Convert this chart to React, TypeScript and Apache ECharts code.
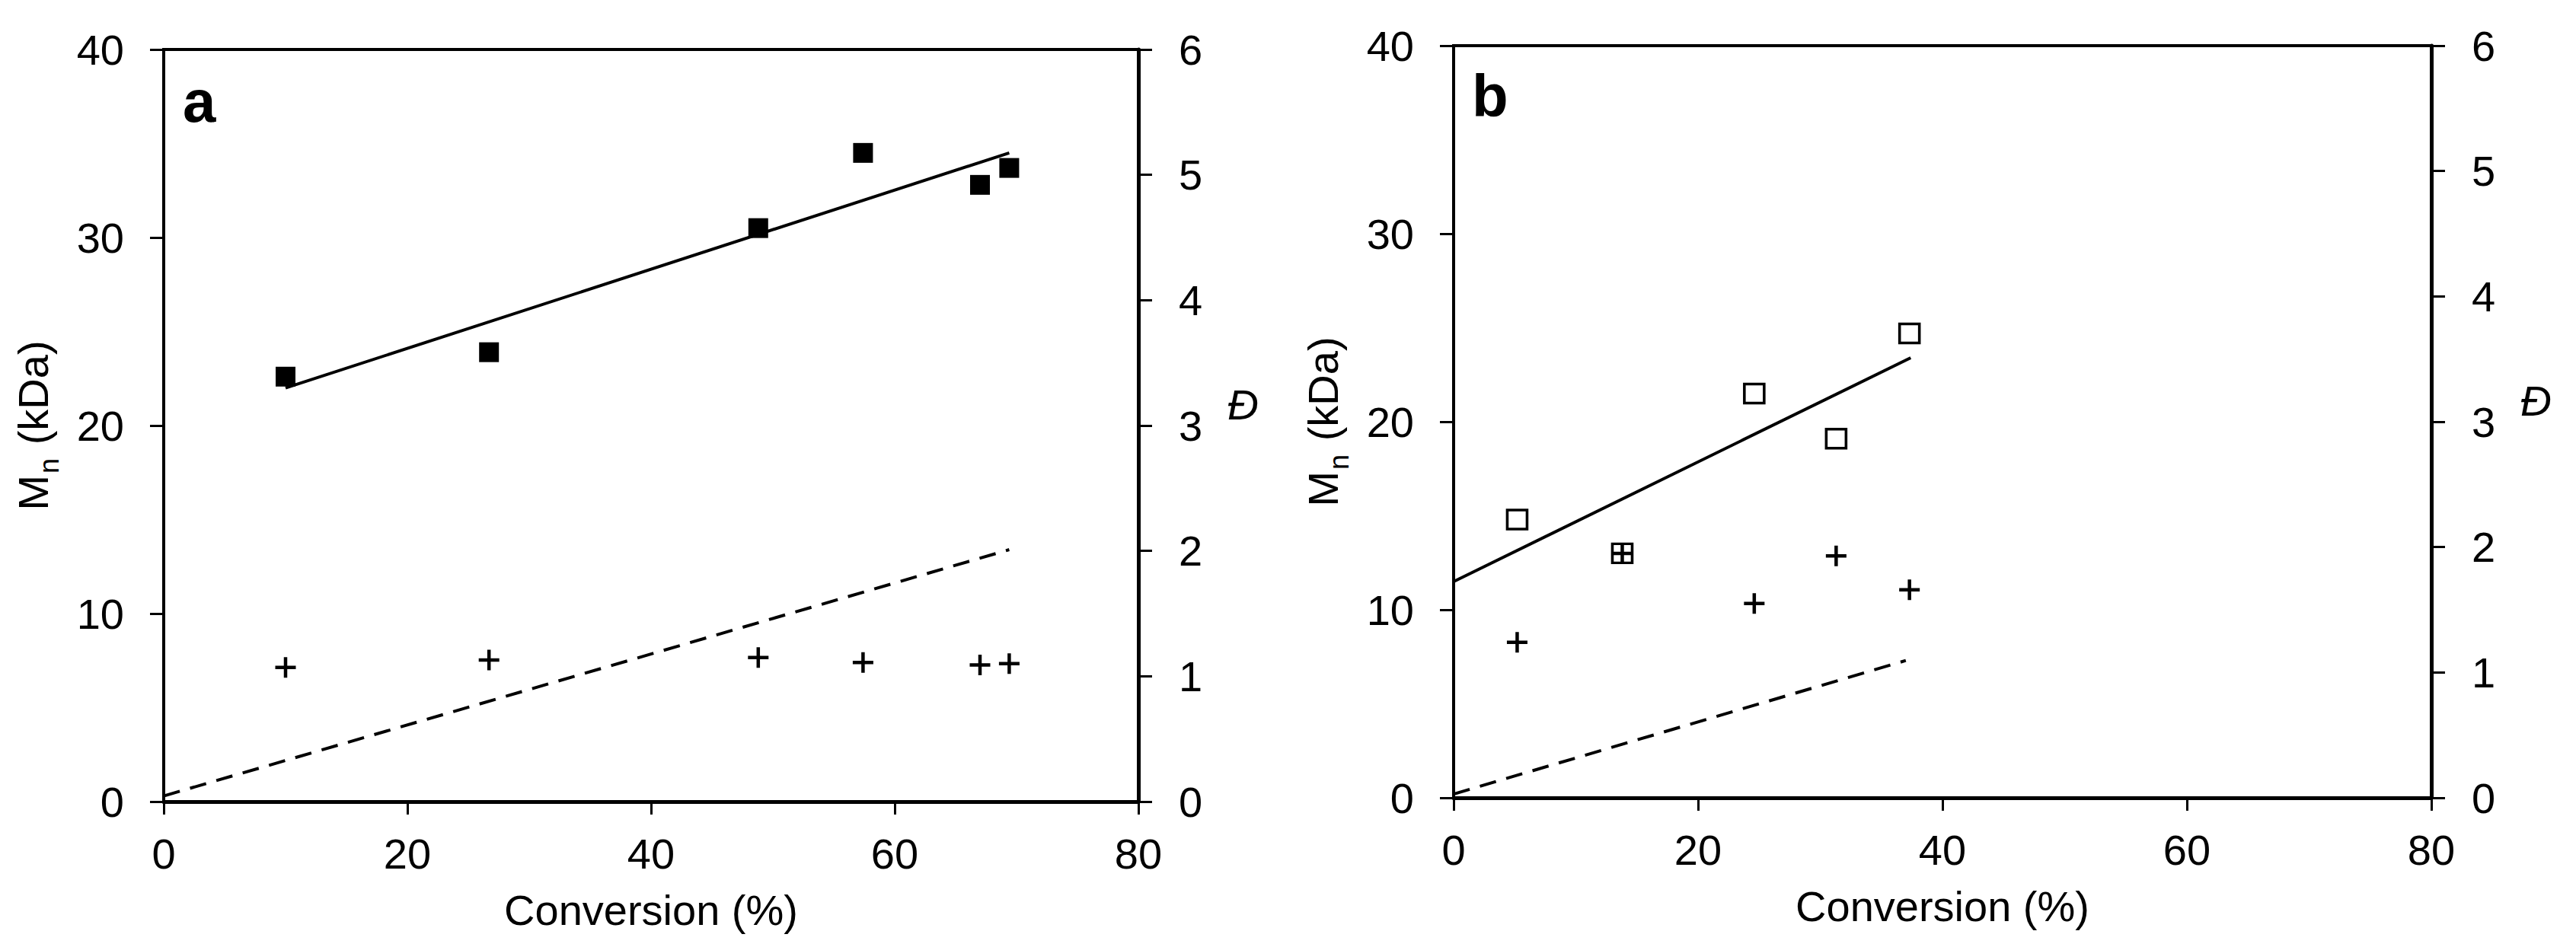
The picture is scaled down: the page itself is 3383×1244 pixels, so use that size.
import React, { useEffect, useRef } from "react";
import * as echarts from "echarts";

// Panel a (filled squares)
const convA = [10.0, 26.7, 48.8, 57.4, 67.0, 69.4];
const mnA = [22.6, 23.9, 30.5, 34.5, 32.8, 33.7];
const dispA = [1.07, 1.13, 1.15, 1.11, 1.09, 1.1];
const fitA = [
  [10.0, 22.0],
  [69.4, 34.5],
];
const theoryA = [
  [0, 0.3],
  [69.4, 13.4],
];

// Panel b (open squares)
const convB = [5.2, 13.8, 24.6, 31.3, 37.3];
const mnB = [14.8, 13.0, 21.5, 19.1, 24.7];
const dispB = [1.24, 1.95, 1.55, 1.93, 1.66];
const fitB = [
  [0, 11.5],
  [37.4, 23.4],
];
const theoryB = [
  [0, 0.2],
  [37.0, 7.3],
];

const panelLabels = ["a", "b"];
const xName = "Conversion (%)";
const yLeftName = "{m|M}{s|n}{m| (kDa)}";
const yRightName = "Đ";

const FONT = "'Liberation Sans', Arial, Helvetica, sans-serif";
const PLUS = "path://M10,0H14V10H24V14H14V24H10V14H0V10H10Z";

function xAxis(gridIndex: number) {
  return {
    gridIndex,
    type: "value",
    min: 0,
    max: 80,
    interval: 20,
    axisLine: { show: true, onZero: false, lineStyle: { color: "#000", width: 5 } },
    axisTick: { show: true, length: 17, lineStyle: { color: "#000", width: 3 } },
    axisLabel: { margin: 40, fontSize: 56, color: "#000", fontFamily: FONT },
    splitLine: { show: false },
    name: xName,
    nameLocation: "middle",
    nameGap: 114,
    nameTextStyle: { fontSize: 56, color: "#000", fontFamily: FONT },
  };
}

function yLeft(gridIndex: number) {
  return {
    gridIndex,
    type: "value",
    position: "left",
    min: 0,
    max: 40,
    interval: 10,
    axisLine: { show: true, onZero: false, lineStyle: { color: "#000", width: 4 } },
    axisTick: { show: true, length: 18, lineStyle: { color: "#000", width: 3 } },
    axisLabel: { margin: 52, fontSize: 56, color: "#000", fontFamily: FONT },
    splitLine: { show: false },
    name: yLeftName,
    nameLocation: "middle",
    nameGap: 140,
    nameTextStyle: {
      color: "#000",
      rich: {
        m: {
          fontSize: 56,
          fontFamily: FONT,
          color: "#000",
          lineHeight: 60,
          verticalAlign: "top",
        },
        s: {
          fontSize: 36,
          fontFamily: FONT,
          color: "#000",
          lineHeight: 36,
          verticalAlign: "top",
          padding: [31, 2, 0, 2],
        },
      },
    },
  };
}

function yRight(gridIndex: number) {
  return {
    gridIndex,
    type: "value",
    position: "right",
    min: 0,
    max: 6,
    interval: 1,
    axisLine: { show: true, onZero: false, lineStyle: { color: "#000", width: 5 } },
    axisTick: { show: true, length: 18, lineStyle: { color: "#000", width: 3 } },
    axisLabel: { margin: 53, fontSize: 56, color: "#000", fontFamily: FONT },
    splitLine: { show: false },
    name: yRightName,
    nameLocation: "middle",
    nameRotate: 0,
    nameGap: 117,
    nameTextStyle: {
      fontSize: 56,
      fontStyle: "italic",
      color: "#000",
      fontFamily: FONT,
      lineHeight: 56,
      verticalAlign: "bottom",
    },
  };
}

function lineSeries(data: number[][], xi: number, yi: number, dashed: boolean) {
  return {
    type: "line",
    xAxisIndex: xi,
    yAxisIndex: yi,
    data,
    showSymbol: false,
    symbol: "none",
    silent: true,
    lineStyle: { color: "#000", width: 4, opacity: 1, type: dashed ? [22, 14] : "solid" },
    z: 2,
  };
}

export default function App() {
  const ref = useRef<HTMLDivElement>(null);
  useEffect(() => {
    document.body.style.margin = "0";
    const chart = echarts.init(ref.current!, null, { renderer: "svg" });
    const option = {
      animation: false,
      backgroundColor: "#fff",
      grid: [
        {
          left: 215,
          top: 65,
          width: 1280,
          height: 988,
          show: true,
          borderColor: "#000",
          borderWidth: 4,
        },
        {
          left: 1909,
          top: 60,
          width: 1284,
          height: 988,
          show: true,
          borderColor: "#000",
          borderWidth: 4,
        },
      ],
      xAxis: [xAxis(0), xAxis(1)],
      yAxis: [yLeft(0), yRight(0), yLeft(1), yRight(1)],
      series: [
        lineSeries(fitA, 0, 0, false),
        lineSeries(theoryA, 0, 0, true),
        {
          type: "scatter",
          xAxisIndex: 0,
          yAxisIndex: 0,
          data: convA.map((x, i) => [x, mnA[i]]),
          symbol: "rect",
          symbolSize: 26,
          itemStyle: { color: "#000", opacity: 1 },
          z: 3,
        },
        {
          type: "scatter",
          xAxisIndex: 0,
          yAxisIndex: 1,
          data: convA.map((x, i) => [x, dispA[i]]),
          symbol: PLUS,
          symbolSize: 27,
          itemStyle: { color: "#000", opacity: 1 },
          z: 4,
        },
        lineSeries(fitB, 1, 2, false),
        lineSeries(theoryB, 1, 2, true),
        {
          type: "scatter",
          xAxisIndex: 1,
          yAxisIndex: 2,
          data: convB.map((x, i) => [x, mnB[i]]),
          symbol: "rect",
          symbolSize: [26, 25],
          itemStyle: { color: "#fff", borderColor: "#000", borderWidth: 3.5, opacity: 1 },
          z: 3,
        },
        {
          type: "scatter",
          xAxisIndex: 1,
          yAxisIndex: 3,
          data: convB.map((x, i) => [x, dispB[i]]),
          symbol: PLUS,
          symbolSize: 27,
          itemStyle: { color: "#000", opacity: 1 },
          z: 4,
        },
      ],
      graphic: [
        {
          type: "text",
          x: 240,
          y: 133,
          style: {
            text: panelLabels[0],
            font: `bold 78px ${FONT}`,
            fill: "#000",
            verticalAlign: "middle",
          },
        },
        {
          type: "text",
          x: 1933,
          y: 126,
          style: {
            text: panelLabels[1],
            font: `bold 78px ${FONT}`,
            fill: "#000",
            verticalAlign: "middle",
          },
        },
      ],
    };
    chart.setOption(option as any);
    return () => chart.dispose();
  }, []);
  return <div ref={ref} style={{ width: 3383, height: 1244 }} />;
}
